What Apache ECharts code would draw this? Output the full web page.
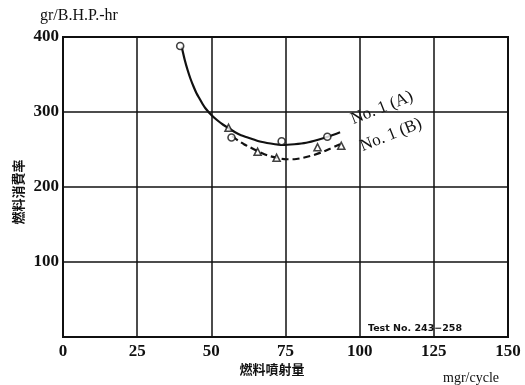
<!DOCTYPE html>
<html>
<head>
<meta charset="utf-8">
<script src="https://cdn.jsdelivr.net/npm/echarts@6/dist/echarts.min.js"></script>
<style>
  html, body { margin: 0; padding: 0; background: #fff; }
  #chart { width: 525px; height: 385px; }
</style>
</head>
<body>
<div id="chart"></div>
<script>
// curves: [mgr/cycle, gr/B.H.P.-hr]
const curveA = [[40, 387], [41, 370], [42, 356], [43, 344], [44, 334], [45, 325], [46, 318], [47, 311], [48, 305], [50, 296], [52, 289], [54, 283], [56, 278], [58, 273], [60, 269], [63, 265], [66, 261], [70, 258], [74, 256], [78, 257], [82, 259], [86, 263], [90, 268], [93.4, 273]]
const curveB = [[57, 268], [59, 262], [61, 257], [63, 253], [66, 247], [69, 242], [72, 239], [75, 237], [78, 237], [81, 239], [84, 242], [87, 246], [90, 251], [93.4, 257]]
// measured points
const pointsA = [[39.5, 388], [56.8, 266], [73.7, 261], [89.1, 267]]
const pointsB = [[55.8, 279], [65.6, 247], [72, 239], [85.8, 253], [93.8, 255]]

const xTicks = [0, 25, 50, 75, 100, 125, 150]
const yTicks = [0, 100, 200, 300, 400]

const serif = '"Liberation Serif", "DejaVu Serif", serif'
const cjk = '"Noto Sans CJK JP", sans-serif'

const chart = echarts.init(document.getElementById('chart'))

chart.setOption({
  animation: false,
  backgroundColor: '#fff',
  grid: {
    left: 63,
    right: 17,
    top: 37,
    bottom: 48,
    show: true,
    borderColor: '#111',
    borderWidth: 2
  },
  xAxis: {
    type: 'value',
    min: xTicks[0],
    max: xTicks[xTicks.length - 1],
    interval: 25,
    axisLine: { show: false },
    axisTick: { show: false },
    axisLabel: {
      color: '#111',
      fontFamily: serif,
      fontSize: 17,
      fontWeight: 'bold',
      margin: 6
    },
    splitLine: { lineStyle: { color: '#111', width: 1.5 } }
  },
  yAxis: {
    type: 'value',
    min: yTicks[0],
    max: yTicks[yTicks.length - 1],
    interval: 100,
    axisLine: { show: false },
    axisTick: { show: false },
    axisLabel: {
      color: '#111',
      fontFamily: serif,
      fontSize: 17,
      fontWeight: 'bold',
      margin: 4,
      formatter: v => (v === 0 ? '' : String(v))
    },
    splitLine: { lineStyle: { color: '#111', width: 1.5 } }
  },
  series: [
    {
      type: 'line',
      data: curveA,
      smooth: 0.2,
      symbol: 'none',
      lineStyle: { color: '#111', width: 2.2 }
    },
    {
      type: 'line',
      data: curveB,
      smooth: 0.2,
      symbol: 'none',
      lineStyle: { color: '#111', width: 2.2, type: [7, 4] }
    },
    {
      type: 'scatter',
      data: pointsA,
      symbol: 'circle',
      symbolSize: 7,
      itemStyle: { color: '#fff', borderColor: '#111', borderWidth: 1.6 },
      z: 5
    },
    {
      type: 'scatter',
      data: pointsB,
      symbol: 'triangle',
      symbolSize: 7,
      itemStyle: { color: '#fff', borderColor: '#111', borderWidth: 1.6 },
      z: 5
    }
  ],
  graphic: [
    {
      type: 'text',
      left: 40,
      top: 8,
      style: { text: 'gr/B.H.P.-hr', fill: '#111', font: '16px ' + serif }
    },
    {
      type: 'text',
      x: 18,
      y: 192,
      rotation: Math.PI / 2,
      style: {
        text: '燃料消費率',
        fill: '#111',
        font: 'bold 13px ' + cjk,
        align: 'center',
        verticalAlign: 'middle'
      }
    },
    {
      type: 'text',
      x: 272,
      y: 369,
      style: {
        text: '燃料噴射量',
        fill: '#111',
        font: 'bold 13px ' + cjk,
        align: 'center',
        verticalAlign: 'middle'
      }
    },
    {
      type: 'text',
      x: 471,
      y: 378,
      style: {
        text: 'mgr/cycle',
        fill: '#111',
        font: '14px ' + serif,
        align: 'center',
        verticalAlign: 'middle'
      }
    },
    {
      type: 'text',
      x: 415,
      y: 329,
      style: {
        text: 'Test No. 243−258',
        fill: '#111',
        font: 'bold 9.5px "DejaVu Sans", sans-serif',
        align: 'center',
        verticalAlign: 'middle'
      }
    },
    {
      type: 'text',
      x: 382,
      y: 108,
      rotation: 0.38,
      style: {
        text: 'No. 1 (A)',
        fill: '#111',
        font: '17px ' + serif,
        align: 'center',
        verticalAlign: 'middle'
      }
    },
    {
      type: 'text',
      x: 391,
      y: 135,
      rotation: 0.38,
      style: {
        text: 'No. 1 (B)',
        fill: '#111',
        font: '17px ' + serif,
        align: 'center',
        verticalAlign: 'middle'
      }
    }
  ]
})
</script>
</body>
</html>
